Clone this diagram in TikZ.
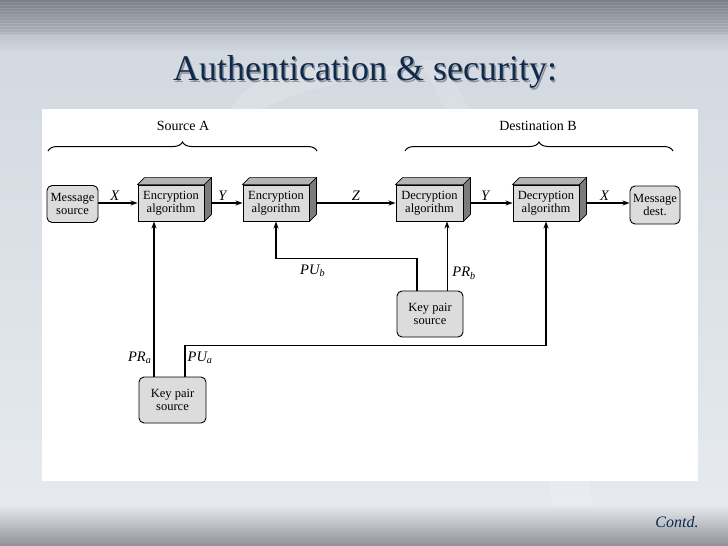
\documentclass[tikz,border=0pt]{standalone}
\usepackage{fontspec}
\setmainfont{Liberation Serif}
\usetikzlibrary{arrows.meta,calc,decorations.pathreplacing,shadows}
\definecolor{navy}{HTML}{102A4C}
\definecolor{boxgray}{HTML}{DCDCDC}
\definecolor{topgray}{HTML}{B4B4B4}
\definecolor{sidegray}{HTML}{7C7C7C}
\definecolor{bgtop}{HTML}{7A8089}
\definecolor{bgband}{HTML}{AEB5BD}
\definecolor{bgbody}{HTML}{D2D9E0}
\definecolor{bgbody2}{HTML}{E6EAEE}
\definecolor{bgbot}{HTML}{8E9297}
\newcommand{\vlab}[2]{\textit{#1}\textsubscript{\textit{#2}}}
\tikzset{
  txt/.style={font=\fontsize{12.5}{13.5}\selectfont, align=center, inner sep=0pt},
  roundbox/.style={txt, draw=black, fill=boxgray, rounded corners=5pt, line width=0.9pt},
  algobox/.style={txt, draw=black, fill=boxgray, line width=0.9pt, minimum width=66pt, minimum height=36pt},
  arr/.style={line width=1.3pt, -{Stealth[length=7pt,width=5pt]}},
  thinarr/.style={line width=0.8pt, -{Stealth[length=7pt,width=5pt]}},
  lab/.style={font=\fontsize{14.5}{14.5}\selectfont\itshape, inner sep=2pt},
  head/.style={font=\fontsize{14}{14}\selectfont, inner sep=0pt},
  brc/.style={decorate, decoration={brace, amplitude=9pt}, line width=1pt}
}
\newcommand{\depthbox}[1]{%
  \fill[topgray, draw=black, line width=0.6pt] (#1.north west) -- ++(7,-7) -- ($(#1.north east)+(7,-7)$) -- (#1.north east) -- cycle;
  \fill[sidegray, draw=black, line width=0.6pt] (#1.north east) -- ++(7,-7) -- ($(#1.south east)+(7,-7)$) -- (#1.south east) -- cycle;
}
\begin{document}
\begin{tikzpicture}[x=1pt,y=-1pt]
\useasboundingbox (0,0) rectangle (728,546);
% background
\shade[top color=bgtop, bottom color=bgband] (0,0) rectangle (728,34);
\foreach \yy in {2,5,...,32} {\draw[white, opacity=0.12, line width=0.8pt] (0,\yy) -- (728,\yy);}
\shade[top color=bgband!60!bgbody, bottom color=bgbody] (0,34) rectangle (728,52);
\draw[white, opacity=0.5, line width=0.8pt] (0,52) -- (728,52);
\shade[top color=bgbody, bottom color=bgbody2] (0,52.4) rectangle (728,505);
\fill[white, opacity=0.12] (420,60) .. controls (470,150) and (520,300) .. (560,546) -- (600,546) .. controls (560,300) and (500,150) .. (440,60) -- cycle;
\fill[white, opacity=0.15] (230,110) .. controls (260,60) and (330,55) .. (420,70) .. controls (360,75) and (300,90) .. (260,110) -- cycle;
\shade[top color=bgbody2, bottom color=bgbot] (0,505) rectangle (728,546);
% title
\node[font=\fontsize{36}{36}\selectfont, text=black!60, opacity=0.6] at (366.5,73.5) {Authentication \& security:};
\node[font=\fontsize{36}{36}\selectfont, text=navy] (title) at (365,72) {Authentication \& security:};
% white panel
\fill[white] (42,109) rectangle (698,481);
% contd
\node[font=\fontsize{16}{16}\selectfont\itshape, text=navy] (contd) at (677,522) {Contd.};

% main nodes
\node[roundbox, minimum width=51pt, minimum height=37pt] (msg) at (72.5,204) {Message\\source};
\node[algobox] (e1) at (171,203) {Encryption\\algorithm};
\node[algobox] (e2) at (276,203) {Encryption\\algorithm};
\node[algobox, minimum width=67pt] (d1) at (429.5,203) {Decryption\\algorithm};
\node[algobox] (d2) at (546,203) {Decryption\\algorithm};
\node[roundbox, minimum width=50pt, minimum height=38pt] (dest) at (655,205) {Message\\dest.};
\node[roundbox, minimum width=67pt, minimum height=46pt] (kA) at (172.5,400) {Key pair\\source};
\node[roundbox, minimum width=66pt, minimum height=46pt] (kB) at (430,314) {Key pair\\source};
\depthbox{e1}
\depthbox{e2}
\depthbox{d1}
\depthbox{d2}

% headers with braces
\node[head] (srcA) at (183,126) {Source A};
\node[head] (dstB) at (538,126) {Destination B};
\coordinate (bA1) at (48,151);
\coordinate (bA2) at (317,151);
\coordinate (bB1) at (405,151);
\coordinate (bB2) at (673,151);
\draw[brc] (bA1) -- (bA2);
\draw[brc] (bB1) -- (bB2);

% horizontal flow
\draw[arr] (msg.east |- e1.west) -- node[lab, above, pos=0.42] {X} (e1.west);
\draw[arr] ([xshift=7pt]e1.east) -- node[lab, above, pos=0.35] {Y} (e2.west);
\draw[arr] ([xshift=7pt]e2.east) -- node[lab, above] {Z} (d1.west);
\draw[arr] ([xshift=7pt]d1.east) -- node[lab, above, pos=0.35] {Y} (d2.west);
\draw[arr] ([xshift=7pt]d2.east) -- node[lab, above, pos=0.42] {X} (dest.west |- d2.east);

% key arrows
\draw[arr] ([xshift=-18.5pt]kA.north) -- node[lab, left, pos=0.12] {\vlab{PR}{a}} ([xshift=-18.5pt]kA.north |- e1.south);
\draw[arr] ([xshift=12.5pt]kA.north) -- node[lab, right, pos=0.6] {\vlab{PU}{a}} ++(0,-31) -| (d2.south);
\draw[arr] ([xshift=-13pt]kB.north) -- ++(0,-32) -| node[lab, pos=0.37, below=4pt] {\vlab{PU}{b}} (e2.south);
\draw[thinarr] ([xshift=17pt]kB.north) -- node[lab, right=3pt, pos=0.25] {\vlab{PR}{b}} ([xshift=17pt]kB.north |- d1.south);
\end{tikzpicture}
\end{document}
